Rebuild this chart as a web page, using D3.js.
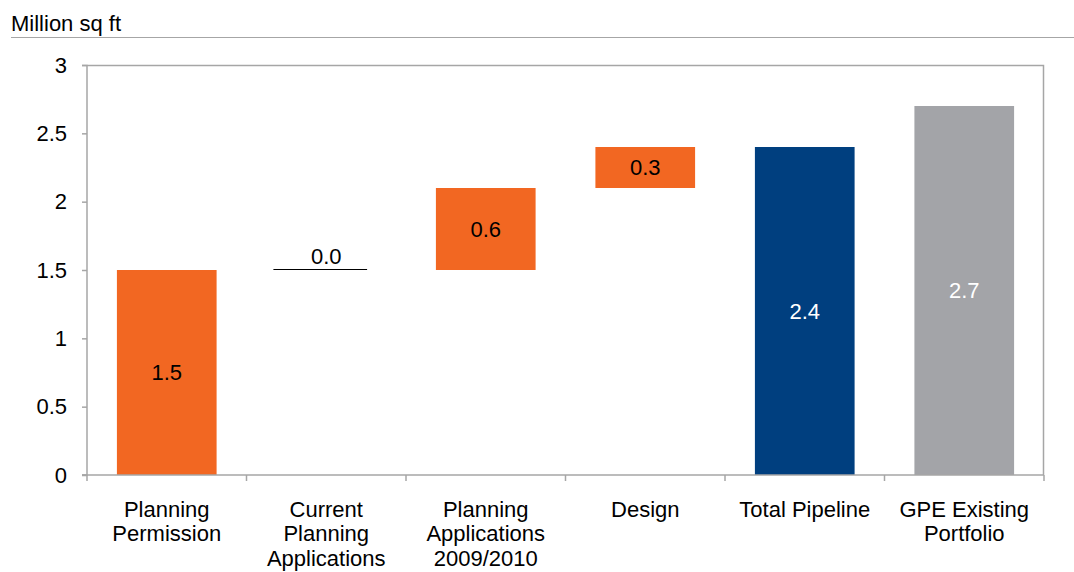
<!DOCTYPE html>
<html>
<head>
<meta charset="utf-8">
<script src="https://cdn.jsdelivr.net/npm/d3@7"></script>
<style>
  html, body { margin: 0; padding: 0; background: #fff; }
  svg { display: block; font-family: Arial, "Liberation Sans", Helvetica, sans-serif; }
</style>
</head>
<body>
<svg id="chart" width="1074" height="572"></svg>
<script>
// Development pipeline, million sq ft
const categories = [
  ["Planning", "Permission"],
  ["Current", "Planning", "Applications"],
  ["Planning", "Applications", "2009/2010"],
  ["Design"],
  ["Total Pipeline"],
  ["GPE Existing", "Portfolio"]
];
const values = [1.5, 0.0, 0.6, 0.3, 2.4, 2.7];
// step bars float on the running total; totals start at zero
const kinds = ["step", "step", "step", "step", "total", "total"];
const yTicks = [0, 0.5, 1, 1.5, 2, 2.5, 3];
const yTickLabels = ["0", "0.5", "1", "1.5", "2", "2.5", "3"];

const colors = { step: "#F26722", total: "#003F7F", other: "#A3A4A8" };

const svg = d3.select("#chart");
const margin = { left: 87, right: 30, top: 65, bottom: 97 };
const W = 1074, H = 572;
const x0 = margin.left, x1 = W - margin.right;
const y0 = H - margin.bottom, y1 = margin.top;
const FS = 22;

const idx = d3.range(categories.length);
const x = d3.scaleBand().domain(idx).range([x0, x1]).paddingInner(0.375).paddingOuter(0.1875);
const xEdge = d3.scaleLinear().domain([0, categories.length]).range([x0, x1]);
const y = d3.scaleLinear().domain([0, 3]).range([y0, y1]);

// build waterfall segments
let running = 0;
const bars = values.map((v, i) => {
  let lo, hi;
  if (kinds[i] === "step") { lo = running; hi = running + v; running = hi; }
  else { lo = 0; hi = v; }
  const fill = kinds[i] === "step" ? colors.step : (i === categories.length - 1 ? colors.other : colors.total);
  return { i, v, lo, hi, fill, kind: kinds[i] };
});

// title and rule
svg.append("text").attr("x", 11).attr("y", 31).attr("font-size", FS).attr("fill", "#000").text("Million sq ft");
svg.append("line").attr("x1", 11).attr("x2", W).attr("y1", 37.5).attr("y2", 37.5)
  .attr("stroke", "#A6A6A6").attr("stroke-width", 1);

// plot frame (top and right)
svg.append("path")
  .attr("d", `M${x0},${y1 + 0.5}H${x1 - 0.5}V${y0}`)
  .attr("fill", "none").attr("stroke", "#A6A6A6").attr("stroke-width", 1.5);

// bars
svg.append("g").selectAll("rect").data(bars.filter(d => d.v > 0)).join("rect")
  .attr("x", d => x(d.i))
  .attr("width", x.bandwidth())
  .attr("y", d => y(d.hi))
  .attr("height", d => y(d.lo) - y(d.hi))
  .attr("fill", d => d.fill);

// zero-height step shown as a thin line
svg.append("g").selectAll("line").data(bars.filter(d => d.v === 0)).join("line")
  .attr("x1", d => x(d.i) - 3).attr("x2", d => x(d.i) + x.bandwidth() - 9)
  .attr("y1", d => Math.round(y(d.hi)) - 0.5).attr("y2", d => Math.round(y(d.hi)) - 0.5)
  .attr("stroke", "#000").attr("stroke-width", 1);

// value labels
svg.append("g").selectAll("text").data(bars).join("text")
  .attr("x", d => x(d.i) + x.bandwidth() / 2)
  .attr("y", d => d.v === 0 ? y(d.hi) - 6 : y((d.lo + d.hi) / 2))
  .attr("dy", d => d.v === 0 ? 0 : "0.35em")
  .attr("text-anchor", "middle")
  .attr("font-size", FS)
  .attr("fill", d => d.kind === "total" ? "#fff" : "#000")
  .text(d => d.v.toFixed(1));

// y axis
const yAxis = d3.axisLeft(y).tickValues(yTicks).tickFormat((d, i) => yTickLabels[i]).tickSize(5).tickPadding(15);
const gy = svg.append("g").attr("transform", `translate(${x0},0)`).call(yAxis);
gy.select(".domain").attr("stroke", "#A6A6A6").attr("stroke-width", 1.5).attr("d", `M-5,${y1 + 0.5}H0V${y0}H-5`);
gy.selectAll(".tick line").attr("stroke", "#A6A6A6").attr("stroke-width", 1.5);
gy.selectAll(".tick text").attr("font-size", FS).attr("fill", "#000").attr("font-family", null);

// x axis with ticks at category boundaries
const gx = svg.append("g").attr("transform", `translate(0,${y0})`);
gx.append("line").attr("x1", x0 - 5).attr("x2", x1).attr("y1", 0).attr("y2", 0)
  .attr("stroke", "#A6A6A6").attr("stroke-width", 1.5);
gx.selectAll("line.edge").data(d3.range(categories.length + 1)).join("line")
  .attr("class", "edge")
  .attr("x1", d => xEdge(d)).attr("x2", d => xEdge(d))
  .attr("y1", 0).attr("y2", 6)
  .attr("stroke", "#A6A6A6").attr("stroke-width", 1.5);

const labels = gx.selectAll("text.cat").data(idx).join("text")
  .attr("class", "cat")
  .attr("text-anchor", "middle")
  .attr("font-size", FS)
  .attr("fill", "#000")
  .attr("transform", i => `translate(${x(i) + x.bandwidth() / 2},41.5)`);
labels.selectAll("tspan").data(i => categories[i]).join("tspan")
  .attr("x", 0).attr("dy", (d, j) => j === 0 ? 0 : 24.5)
  .text(d => d);
</script>
</body>
</html>
